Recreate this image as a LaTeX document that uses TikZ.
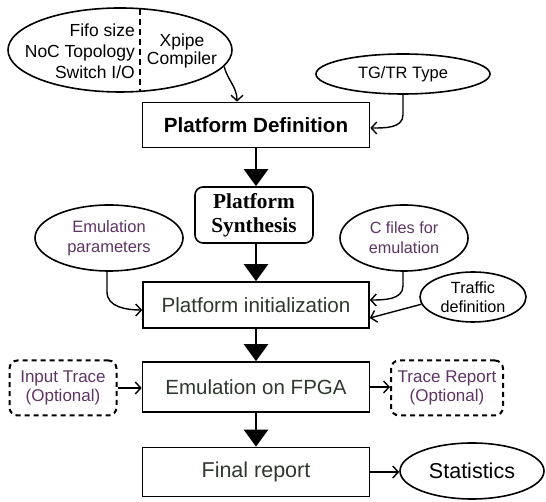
\documentclass[tikz,border=0pt]{standalone}
\usepackage{fontspec}
\setmainfont{Liberation Sans}
\newfontfamily\serifb{Liberation Serif}
\usetikzlibrary{arrows.meta,shapes.geometric}
\definecolor{purp}{HTML}{5E3464}
\definecolor{dtxt}{HTML}{2E382E}
\tikzset{
  lw/.style={line width=1.6pt},
  mainbox/.style={draw,lw,rectangle,inner sep=0pt,text=dtxt,font=\fontsize{20.6}{22}\selectfont},
  oval/.style={draw,lw,ellipse,inner sep=0pt,align=center,font=\fontsize{16}{20}\selectfont},
  dbox/.style={draw,line width=2pt,dash pattern=on 5pt off 4pt,rounded corners=8pt,inner sep=0pt,align=center,text=purp,font=\fontsize{17}{19}\selectfont},
  thick arrow/.style={line width=2.4pt,-{Triangle[length=17pt,width=24pt]}},
  thin arrow/.style={line width=1.4pt,-{Straight Barb[length=5.5pt,width=12pt]}},
}
\begin{document}
\begin{tikzpicture}[x=1pt,y=1pt]
\useasboundingbox (0,0) rectangle (546,502);
% top-left ellipse
\node[oval,minimum width=224pt,minimum height=84pt] (src) at (120,452) {};
\coordinate (dtop) at (140,493.3);
\coordinate (dbot) at (140,410.7);
\draw[line width=2.2pt,dash pattern=on 6pt off 4pt] (dtop) -- (dbot);
\node[anchor=east,align=right,inner sep=0pt,font=\fontsize{17.5}{21}\selectfont] (srcl) at (135,451) {Fifo size\\NoC Topology\\Switch I/O};
\node[align=center,inner sep=0pt,font=\fontsize{17.5}{18}\selectfont] (srcr) at (182,451) {Xpipe\\Compiler};
% main column
\node[mainbox,minimum width=227pt,minimum height=45pt,text=black,font=\bfseries\fontsize{20.6}{22}\selectfont] (pd) at (256,377) {Platform Definition};
\node[draw,lw,rounded corners=8pt,minimum width=118pt,minimum height=56pt,inner sep=0pt,align=center,font=\serifb\bfseries\fontsize{21.3}{24}\selectfont] (ps) at (254,287) {Platform\\Synthesis};
\node[mainbox,minimum width=226pt,minimum height=46pt] (pi) at (256,197) {Platform initialization};
\node[mainbox,minimum width=227pt,minimum height=50pt,font=\fontsize{20.5}{22}\selectfont] (ef) at (256,115) {Emulation on FPGA};
\node[mainbox,minimum width=227pt,minimum height=49pt,font=\fontsize{21.5}{22}\selectfont] (fr) at (256,30) {Final report};
% side ovals
\node[oval,minimum width=174pt,minimum height=40pt,font=\fontsize{16.5}{20}\selectfont] (tg) at (403,428) {TG/TR Type};
\node[oval,minimum width=148pt,minimum height=66pt,text=purp,font=\fontsize{16.5}{20}\selectfont] (ep) at (109,264) {Emulation\\parameters};
\node[oval,minimum width=128pt,minimum height=66pt,text=purp,font=\fontsize{16.2}{20}\selectfont] (cf) at (404,264) {C files for\\emulation};
\node[oval,minimum width=106pt,minimum height=50pt,font=\fontsize{16.2}{18.5}\selectfont] (td) at (473,205) {Traffic\\definition};
\node[oval,minimum width=144pt,minimum height=56pt,font=\fontsize{21.5}{24}\selectfont] (st) at (472,31) {Statistics};
% dashed boxes
\node[dbox,minimum width=107pt,minimum height=55pt] (it) at (63,114) {Input Trace\\(Optional)};
\node[dbox,minimum width=112pt,minimum height=55pt] (tr) at (447,114) {Trace Report\\(Optional)};
% thick arrows
\draw[thick arrow] (pd.south) -- (pd.south |- ps.north);
\draw[thick arrow] (pd.south |- ps.south) -- (pi.north);
\draw[thick arrow] (pi.south) -- (ef.north);
\draw[thick arrow] (ef.south) -- (fr.north);
% thin arrows
\draw[thin arrow] (src.-9) to[out=-75,in=90] ([xshift=-19pt]pd.north);
\draw[thin arrow] (tg.south) -- ++(0,-20) to[out=-90,in=0] ([yshift=-3pt]pd.east);
\draw[thin arrow] ([xshift=-2pt]ep.south) -- ++(0,-20) to[out=-90,in=180] ([yshift=-5pt]pi.west);
\draw[thin arrow] ([xshift=-1pt]cf.south) -- ++(0,-14) to[out=-90,in=0] ([yshift=5pt]pi.east);
\draw[thin arrow] (td.188) -- ([yshift=-13pt]pi.east);
\draw[thin arrow] (it.east) -- (it.east -| ef.west);
\draw[thin arrow] (ef.east) -- (ef.east -| tr.west);
\draw[thin arrow] (fr.east) -- (fr.east -| st.west);
\end{tikzpicture}
\end{document}
